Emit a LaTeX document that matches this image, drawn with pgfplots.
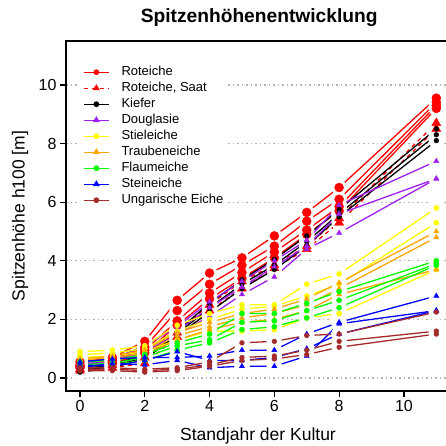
\documentclass[border=0pt]{standalone}
\usepackage{fontspec}
\setmainfont{Liberation Sans}
\usepackage{pgfplots}
\usepackage{pgfplotstable}
\pgfplotsset{compat=1.18}
\definecolor{rred}{HTML}{FF0000}
\definecolor{rpurple}{HTML}{A020F0}
\definecolor{ryellow}{HTML}{FFFF00}
\definecolor{rorange}{HTML}{FFA500}
\definecolor{rgreen}{HTML}{00FF00}
\definecolor{rblue}{HTML}{0000FF}
\definecolor{rbrown}{HTML}{A52A2A}

\pgfplotstableread{
x  a    b    c    d
0  0.55 0.45 0.40 0.35
1  0.70 0.60 0.55 0.50
2  1.25 1.05 0.95 0.85
3  2.65 2.30 1.95 1.80
4  3.58 3.20 2.90 2.70
5  4.10 3.85 3.60 3.40
6  4.85 4.50 4.30 4.10
7  5.65 5.35 5.05 4.90
8  6.50 6.10 5.85 5.70
11 9.55 9.40 9.30 9.20
}\roteiche
\pgfplotstableread{
x  a    b
0  0.30 0.25
1  0.45 0.35
2  0.70 0.50
3  1.55 1.40
4  2.50 2.30
5  3.30 3.05
6  3.85 3.75
7  4.50 4.40
8  5.45 5.30
11 8.70 8.50
}\saat
\pgfplotstableread{
x  a    b    c
0  0.30 0.25 0.20
1  0.45 0.40 0.35
2  0.80 0.70 0.65
3  1.60 1.50 1.45
4  2.55 2.40 2.25
5  3.35 3.20 3.05
6  4.05 3.85 3.70
7  4.85 4.65 4.50
8  5.75 5.60 5.50
11 8.50 8.30 8.10
}\kiefer
\pgfplotstableread{
x  a    b    c
0  0.50 0.45 0.40
1  0.65 0.60 0.55
2  1.10 1.00 0.90
3  1.75 1.60 1.50
4  2.60 2.40 2.10
5  3.30 3.10 2.85
6  4.00 3.80 3.45
7  4.70 4.50 4.40
8  5.90 5.60 4.95
11 7.40 6.80 6.80
}\douglasie
\pgfplotstableread{
x  a    b    c
0  0.90 0.80 0.70
1  0.95 0.85 0.75
2  1.10 1.00 0.90
3  1.80 1.60 1.30
4  2.20 2.00 1.60
5  2.50 2.35 1.60
6  2.50 2.45 1.65
7  3.20 2.80 2.05
8  3.55 3.20 2.20
11 5.80 5.30 3.70
}\stieleiche
\pgfplotstableread{
x  a    b    c
0  0.65 0.60 0.55
1  0.75 0.70 0.60
2  0.95 0.85 0.80
3  1.55 1.45 1.30
4  1.90 1.75 1.65
5  2.20 2.05 1.90
6  2.35 2.20 2.00
7  2.70 2.50 2.30
8  3.25 3.05 2.85
11 5.00 4.80 3.70
}\traubeneiche
\pgfplotstableread{
x  a    b    c
0  0.55 0.45 0.40
1  0.60 0.50 0.45
2  0.80 0.70 0.60
3  1.20 1.10 0.95
4  1.50 1.30 1.20
5  2.20 1.90 1.65
6  2.20 1.95 1.75
7  2.55 2.30 2.05
8  2.95 2.65 2.40
11 4.00 3.90 3.85
}\flaumeiche
\pgfplotstableread{
x  a    b    c
0  0.55 0.45 0.35
1  0.65 0.40 0.50
2  0.70 0.60 0.45
3  0.70 0.90 0.60
4  0.75 0.60 0.35
5  0.95 0.60 0.40
6  0.95 0.70 0.40
7  1.50 1.00 0.75
8  1.90 1.50 1.85
11 2.80 2.30 2.30
}\steineiche
\pgfplotstableread{
x  a    b    c
0  0.35 0.30 0.25
1  0.35 0.30 0.25
2  0.30 0.25 0.20
3  0.35 0.30 0.25
4  0.55 0.45 0.40
5  1.20 0.70 0.60
6  1.25 0.75 0.65
7  1.45 0.95 0.80
8  1.50 1.25 1.05
11 2.25 1.60 1.50
}\ungarisch

\newcommand{\lineset}[3]{\pgfplotsinvokeforeach{#2}{\addplot[#3, no marks, line width=1.3pt, forget plot] table[x=x,y=##1]{#1};}}
\newcommand{\haloset}[2]{\pgfplotsinvokeforeach{#2}{\addplot[only marks, mark=*, mark size=7.5pt, color=white, forget plot] table[x=x,y=##1]{#1};}}
\newcommand{\markset}[3]{\pgfplotsinvokeforeach{#2}{\addplot[only marks, #3, forget plot] table[x=x,y=##1]{#1};}}

\begin{document}
\begin{tikzpicture}[x=1pt,y=1pt]
\begin{axis}[
  at={(66pt,55pt)}, anchor=south west,
  scale only axis, width=381pt, height=350pt,
  xmin=-0.432, xmax=11.33, ymin=-0.444, ymax=11.5,
  xtick={0,2,...,10}, ytick={0,2,...,10},
  xtick pos=bottom, ytick pos=left,
  tick align=outside, major tick length=6pt,
  tick style={black, line width=1.2pt},
  axis line style={line width=1.6pt},
  ymajorgrids,
  grid style={dash pattern=on 1.5pt off 3pt, color=black!30, line width=1.2pt},
  tick label style={font=\fontsize{16}{16}\selectfont},
  /pgf/number format/assume math mode=true,
  xlabel={Standjahr der Kultur},
  ylabel={Spitzenhöhe h100 [m]},
  xlabel style={at={(rel axis cs:0.504,0)}, anchor=center, yshift=-45pt, font=\fontsize{17.5}{17.5}\selectfont},
  ylabel style={at={(rel axis cs:-0.1207,0.5)}, anchor=center, font=\fontsize{17.5}{17.5}\selectfont},
  title={Spitzenhöhenentwicklung},
  title style={at={(rel axis cs:0.507,1)}, anchor=base, yshift=12pt, font=\bfseries\fontsize{19.2}{19.2}\selectfont},
  legend image code/.code={\draw[mark repeat=2,mark phase=2] plot coordinates {(0pt,0pt)(12.5pt,0pt)(25pt,0pt)};},
  legend cell align=left,
  legend style={at={(rel axis cs:0.0315,0.937)}, anchor=north west, draw=none, fill=white,
    inner xsep=5pt, inner ysep=3pt, row sep=4.1pt, column sep=12pt,
    font=\fontsize{13}{13}\selectfont,
    nodes={inner sep=0pt, text height=9.3pt, text depth=2.6pt}},
]
% lines
\lineset{\roteiche}{a,b,c,d}{rred}
\lineset{\saat}{a,b}{rred, dash pattern=on 4pt off 4pt}
\lineset{\kiefer}{a,b,c}{black}
\lineset{\douglasie}{a,b,c}{rpurple}
\lineset{\stieleiche}{a,b,c}{ryellow}
\lineset{\traubeneiche}{a,b,c}{rorange}
\lineset{\flaumeiche}{a,b,c}{rgreen}
\lineset{\steineiche}{a,b,c}{rblue}
\lineset{\ungarisch}{a,b,c}{rbrown}
% gaps around points
\haloset{\roteiche}{a,b,c,d}
\haloset{\saat}{a,b}
\haloset{\kiefer}{a,b,c}
\haloset{\douglasie}{a,b,c}
\haloset{\stieleiche}{a,b,c}
\haloset{\traubeneiche}{a,b,c}
\haloset{\flaumeiche}{a,b,c}
\haloset{\steineiche}{a,b,c}
\haloset{\ungarisch}{a,b,c}
% points
\markset{\roteiche}{a,b,c,d}{rred, mark=*, mark size=4.5pt}
\markset{\saat}{a,b}{rred, mark=triangle*, mark size=5.2pt}
\markset{\kiefer}{a,b,c}{black, mark=*, mark size=2.4pt}
\markset{\douglasie}{a,b,c}{rpurple, mark=triangle*, mark size=3pt}
\markset{\stieleiche}{a,b,c}{ryellow, mark=*, mark size=2.6pt}
\markset{\traubeneiche}{a,b,c}{rorange, mark=triangle*, mark size=3pt}
\markset{\flaumeiche}{a,b,c}{rgreen, mark=*, mark size=2.6pt}
\markset{\steineiche}{a,b,c}{rblue, mark=triangle*, mark size=3pt}
\markset{\ungarisch}{a,b,c}{rbrown, mark=*, mark size=2.4pt}
% legend
\addlegendimage{rred, line width=1.3pt, mark=*, mark size=2.2pt}
\addlegendentry{Roteiche}
\addlegendimage{rred, line width=1.3pt, dash pattern=on 4pt off 4pt, mark=triangle*, mark size=2.8pt, mark options={solid}}
\addlegendentry{Roteiche, Saat}
\addlegendimage{black, line width=1.3pt, mark=*, mark size=2.2pt}
\addlegendentry{Kiefer}
\addlegendimage{rpurple, line width=1.3pt, mark=triangle*, mark size=2.8pt}
\addlegendentry{Douglasie}
\addlegendimage{ryellow, line width=1.3pt, mark=*, mark size=2.2pt}
\addlegendentry{Stieleiche}
\addlegendimage{rorange, line width=1.3pt, mark=triangle*, mark size=2.8pt}
\addlegendentry{Traubeneiche}
\addlegendimage{rgreen, line width=1.3pt, mark=*, mark size=2.2pt}
\addlegendentry{Flaumeiche}
\addlegendimage{rblue, line width=1.3pt, mark=triangle*, mark size=2.8pt}
\addlegendentry{Steineiche}
\addlegendimage{rbrown, line width=1.3pt, mark=*, mark size=2.2pt}
\addlegendentry{Ungarische Eiche}
\end{axis}
\pgfresetboundingbox
\path[use as bounding box] (0,0) rectangle (445,446);
\end{tikzpicture}
\end{document}
